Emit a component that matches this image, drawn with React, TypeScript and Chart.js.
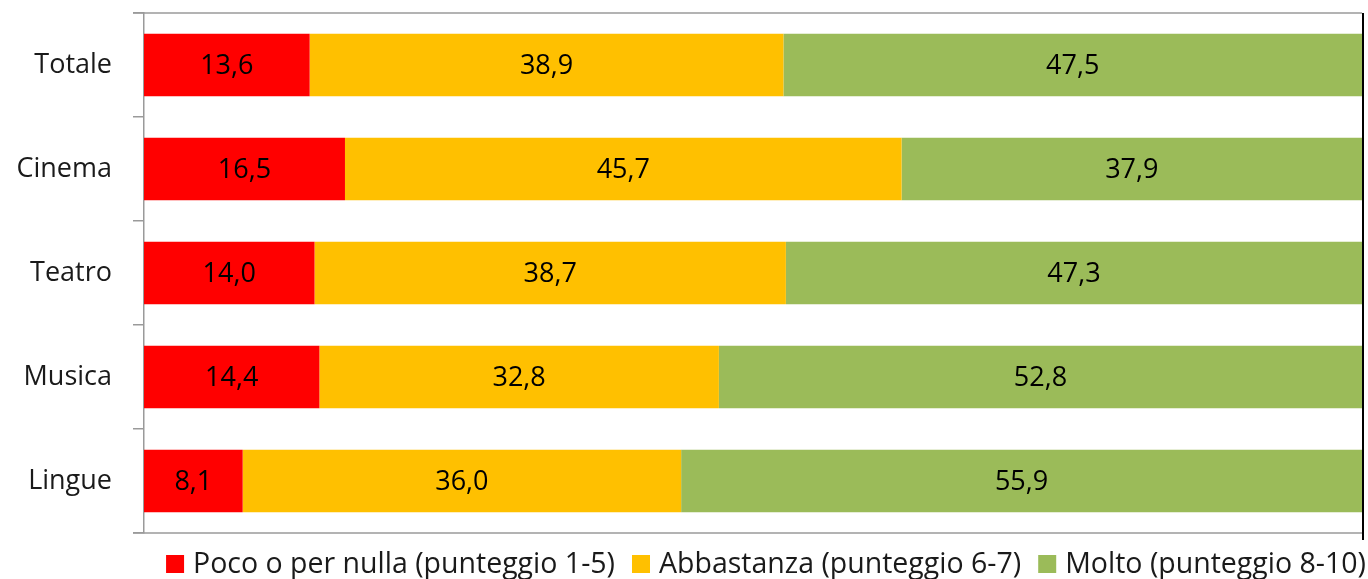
import React, { useEffect, useRef } from "react";
import { Chart, registerables } from "chart.js";

Chart.register(...registerables);

const categories = ["Totale", "Cinema", "Teatro", "Musica", "Lingue"];
const seriesNames = [
  "Poco o per nulla (punteggio 1-5)",
  "Abbastanza (punteggio 6-7)",
  "Molto (punteggio 8-10)",
];
const pocoValues = [13.6, 16.5, 14.0, 14.4, 8.1];
const abbastanzaValues = [38.9, 45.7, 38.7, 32.8, 36.0];
const moltoValues = [47.5, 37.9, 47.3, 52.8, 55.9];
const seriesColors = ["#FF0000", "#FFC000", "#9BBB59"];

const FONT = "'Open Sans', Lato, sans-serif";
const FONT_SIZE = 27;
const LEGEND_FONT_SIZE = 28.5;

const valueLabels = {
  id: "valueLabels",
  afterDatasetsDraw(chart: any) {
    const ctx = chart.ctx;
    ctx.save();
    ctx.font = `${FONT_SIZE}px ${FONT}`;
    ctx.fillStyle = "#000";
    ctx.textAlign = "center";
    ctx.textBaseline = "middle";
    chart.data.datasets.forEach((ds: any, i: number) => {
      const meta = chart.getDatasetMeta(i);
      meta.data.forEach((el: any, j: number) => {
        const v = ds.data[j];
        const left = Math.min(el.x, el.base);
        const right = Math.min(Math.max(el.x, el.base), chart.chartArea.right);
        const cx = (left + right) / 2;
        ctx.fillText(v.toFixed(1).replace(".", ","), cx, el.y + 1);
      });
    });
    ctx.restore();
  },
};

const frameAndLegend = {
  id: "frameAndLegend",
  afterDraw(chart: any) {
    const ctx = chart.ctx;
    const a = chart.chartArea;
    ctx.save();
    ctx.strokeStyle = "#9a9a9a";
    ctx.lineWidth = 1.5;
    ctx.beginPath();
    ctx.moveTo(a.left - 11, a.top);
    ctx.lineTo(a.right, a.top);
    ctx.moveTo(a.left - 11, a.bottom);
    ctx.lineTo(a.right, a.bottom);
    ctx.stroke();
    ctx.strokeStyle = "#000";
    ctx.lineWidth = 2;
    ctx.beginPath();
    ctx.moveTo(a.right + 1, a.top);
    ctx.lineTo(a.right + 1, a.bottom + 7);
    ctx.stroke();

    // legend
    ctx.font = `${LEGEND_FONT_SIZE}px ${FONT}`;
    ctx.textBaseline = "middle";
    ctx.textAlign = "left";
    const box = 18;
    const boxGap = 9;
    const itemGap = 17;
    const widths = seriesNames.map((n) => ctx.measureText(n).width);
    const total =
      widths.reduce((s, w) => s + w, 0) +
      seriesNames.length * (box + boxGap) +
      (seriesNames.length - 1) * itemGap;
    let x = 1366 - total;
    const cy = 564;
    seriesNames.forEach((n, i) => {
      ctx.fillStyle = seriesColors[i];
      ctx.fillRect(x, cy - box / 2, box, box);
      x += box + boxGap;
      ctx.fillStyle = "#1a1a1a";
      ctx.fillText(n, x, cy + 1);
      x += widths[i] + itemGap;
    });
    ctx.restore();
  },
};

export default function App() {
  const ref = useRef<HTMLCanvasElement>(null);

  useEffect(() => {
    document.body.style.margin = "0";
    const chart = new Chart(ref.current!, {
      type: "bar",
      data: {
        labels: categories,
        datasets: [
          { label: seriesNames[0], data: pocoValues, backgroundColor: seriesColors[0] },
          { label: seriesNames[1], data: abbastanzaValues, backgroundColor: seriesColors[1] },
          { label: seriesNames[2], data: moltoValues, backgroundColor: seriesColors[2] },
        ],
      },
      options: {
        indexAxis: "y",
        responsive: false,
        animation: false,
        layout: { padding: { left: 0, top: 13, right: 6, bottom: 46 } },
        datasets: {
          bar: { categoryPercentage: 1, barPercentage: 0.6, borderWidth: 0 },
        },
        plugins: {
          legend: { display: false },
          tooltip: { enabled: false },
        },
        scales: {
          x: {
            stacked: true,
            min: 0,
            max: 100,
            display: false,
          },
          y: {
            stacked: true,
            afterFit: (s: any) => {
              s.width = 144;
              s.paddingTop = 0;
              s.paddingBottom = 0;
            },
            grid: {
              offset: true,
              drawOnChartArea: false,
              tickLength: 11,
              color: "#9a9a9a",
              lineWidth: 1.5,
            },
            border: { color: "#9a9a9a", width: 1.5 },
            ticks: {
              padding: 21,
              color: "#1a1a1a",
              font: { family: FONT, size: FONT_SIZE },
            },
          },
        },
      },
      plugins: [valueLabels, frameAndLegend],
    });
    return () => chart.destroy();
  }, []);

  return (
    <div style={{ position: "absolute", left: 0, top: 0, width: 1368, height: 579 }}>
      <canvas ref={ref} width={1368} height={579} />
    </div>
  );
}
